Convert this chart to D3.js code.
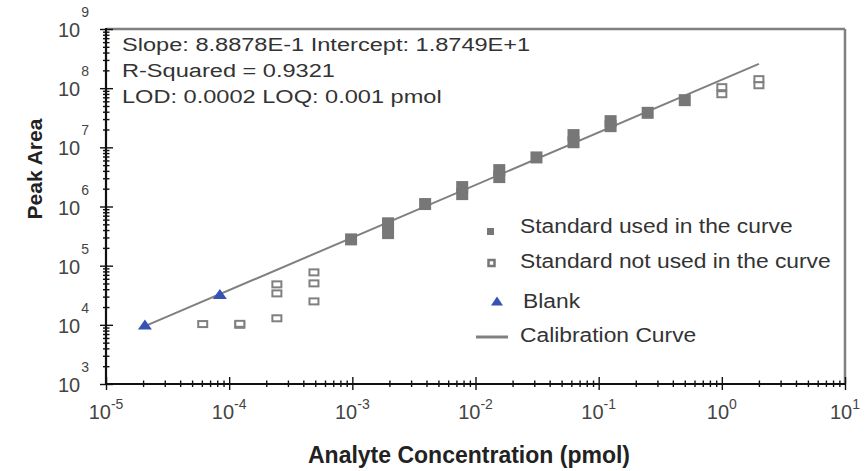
<!DOCTYPE html>
<html>
<head>
<meta charset="utf-8">
<script src="https://cdn.jsdelivr.net/npm/d3@7"></script>
<style>
  body { margin: 0; background: #fff; }
  text { font-family: "Liberation Sans", Arial, sans-serif; }
</style>
</head>
<body>
<div id="chart"></div>
<script>
// data
const usedConc = [0.000977, 0.00195, 0.00195, 0.0039, 0.0078, 0.0078, 0.0156, 0.0156,
                  0.03125, 0.0625, 0.0625, 0.125, 0.125, 0.25, 0.5];
const usedArea = [2.78e5, 5.2e5, 3.55e5, 1.1e6, 2.13e6, 1.62e6, 4.12e6, 3.14e6,
                  6.75e6, 1.61e7, 1.22e7, 2.77e7, 2.28e7, 3.83e7, 6.27e7];
const notUsedConc = [6.1e-5, 1.22e-4, 1.22e-4, 2.44e-4, 2.44e-4, 2.44e-4,
                     4.88e-4, 4.88e-4, 4.88e-4, 1, 1, 2, 2];
const notUsedArea = [1.03e4, 1.0e4, 1.04e4, 1.29e4, 3.4e4, 4.83e4,
                     2.49e4, 5.02e4, 7.7e4, 1.04e8, 7.9e7, 1.42e8, 1.12e8];
const blankConc = [2.07e-5, 8.4e-5];
const blankArea = [9.7e3, 3.2e4];
const curveConc = [2.07e-5, 2];
const curveArea = [9.5e3, 2.57e8];

const xExp = [-5, -4, -3, -2, -1, 0, 1];
const yExp = [3, 4, 5, 6, 7, 8, 9];

const infoLines = ["Slope: 8.8878E-1 Intercept: 1.8749E+1",
                   "R-Squared = 0.9321",
                   "LOD: 0.0002 LOQ: 0.001 pmol"];
const legendLabels = ["Standard used in the curve", "Standard not used in the curve",
                      "Blank", "Calibration Curve"];

const W = 867, H = 471;
const margin = { top: 29, right: 22, bottom: 87, left: 106 },
      width  = W - margin.left - margin.right,
      height = H - margin.top  - margin.bottom;

const svgRoot = d3.select("#chart").append("svg")
  .attr("width", W).attr("height", H);
const svg = svgRoot.append("g")
  .attr("transform", `translate(${margin.left},${margin.top})`);

const x = d3.scaleLog().domain([1e-5, 10]).range([0, width]);
const y = d3.scaleLog().domain([1e3, 1e9]).range([height, 0]);

const grey = "#808080", markGrey = "#777", blue = "#3552b4", ink = "#333";

// minor tick values 2..9 per decade
const minors = ex => ex.slice(0, -1).flatMap(e => d3.range(2, 10).map(m => m * Math.pow(10, e)));
const majors = ex => ex.map(e => Math.pow(10, e));

// frame (top / right in grey)
svg.append("line").attr("x1", 0).attr("x2", width).attr("y1", 0).attr("y2", 0)
  .attr("stroke", grey).attr("stroke-width", 2.5);
svg.append("line").attr("x1", width).attr("x2", width).attr("y1", 0).attr("y2", height)
  .attr("stroke", grey).attr("stroke-width", 2.5);

// axes: ticks on both sides of the axis line
function drawAxis(axisFn, scale, vals, size, tr) {
  const g = svg.append("g").attr("transform", tr)
    .call(axisFn(scale).tickValues(vals).tickSize(size).tickFormat(""));
  g.select(".domain").remove();
  g.selectAll(".tick line").attr("stroke", "#111").attr("stroke-width", 1.4);
}
drawAxis(d3.axisLeft, y, majors(yExp), 6, "translate(0,0)");
drawAxis(d3.axisRight, y, majors(yExp), 7, "translate(0,0)");
drawAxis(d3.axisLeft, y, minors(yExp), 3, "translate(0,0)");
drawAxis(d3.axisRight, y, minors(yExp), 3.5, "translate(0,0)");
drawAxis(d3.axisBottom, x, majors(xExp), 6, `translate(0,${height})`);
drawAxis(d3.axisTop, x, majors(xExp), 7, `translate(0,${height})`);
drawAxis(d3.axisBottom, x, minors(xExp), 3, `translate(0,${height})`);
drawAxis(d3.axisTop, x, minors(xExp), 3.5, `translate(0,${height})`);

svg.append("line").attr("x1", 0).attr("x2", 0).attr("y1", -1).attr("y2", height + 1)
  .attr("stroke", "#111").attr("stroke-width", 2.2);
svg.append("line").attr("x1", -1).attr("x2", width).attr("y1", height).attr("y2", height)
  .attr("stroke", "#111").attr("stroke-width", 2.2);

// tick labels 10^n
xExp.forEach(e => {
  const t = svg.append("text")
    .attr("x", x(Math.pow(10, e))).attr("y", height + 35)
    .attr("text-anchor", "middle").attr("fill", "#444").style("font-size", "20px");
  t.append("tspan").text("10");
  t.append("tspan").attr("dy", -10).style("font-size", "14px").text(e);
});
yExp.forEach(e => {
  const t = svg.append("text")
    .attr("x", -17).attr("y", y(Math.pow(10, e)) + 8)
    .attr("text-anchor", "end").attr("fill", "#444").style("font-size", "20px");
  t.append("tspan").text("10");
  t.append("tspan").attr("dy", -20).attr("dx", 1).style("font-size", "14px").text(e);
});

// axis titles
svgRoot.append("text")
  .attr("x", 469).attr("y", 463)
  .attr("text-anchor", "middle").attr("fill", "#222")
  .style("font-size", "23px").style("font-weight", "bold")
  .text("Analyte Concentration (pmol)");
svgRoot.append("text")
  .attr("transform", "translate(42,169) rotate(-90)")
  .attr("text-anchor", "middle").attr("fill", "#222")
  .style("font-size", "21px").style("font-weight", "bold")
  .text("Peak Area");

// calibration curve
const line = d3.line().x(d => x(d[0])).y(d => y(d[1]));
svg.append("path")
  .datum(curveConc.map((c, i) => [c, curveArea[i]]))
  .attr("fill", "none").attr("stroke", grey).attr("stroke-width", 2)
  .attr("d", line);

// standards used
svg.selectAll(".used")
  .data(usedConc.map((c, i) => [c, usedArea[i]]))
  .enter().append("rect")
    .attr("class", "used")
    .attr("x", d => x(d[0]) - 6).attr("y", d => y(d[1]) - 6)
    .attr("width", 12).attr("height", 12)
    .attr("fill", markGrey);

// standards not used
svg.selectAll(".notused")
  .data(notUsedConc.map((c, i) => [c, notUsedArea[i]]))
  .enter().append("rect")
    .attr("class", "notused")
    .attr("x", d => x(d[0]) - 4.5).attr("y", d => y(d[1]) - 3)
    .attr("width", 9).attr("height", 6)
    .attr("fill", "#fff").attr("stroke", grey).attr("stroke-width", 2);

// blanks
const tri = (w, h) => `M0,${-h * 0.6}L${w / 2},${h * 0.4}L${-w / 2},${h * 0.4}Z`;
svg.selectAll(".blank")
  .data(blankConc.map((c, i) => [c, blankArea[i]]))
  .enter().append("path")
    .attr("class", "blank")
    .attr("transform", d => `translate(${x(d[0])},${y(d[1])})`)
    .attr("d", tri(14, 10))
    .attr("fill", blue);

// stretched text helper (the original text is wide)
function wideText(parent, tx, ty, str, size, sx) {
  return parent.append("text")
    .attr("transform", `translate(${tx},${ty}) scale(${sx},1)`)
    .attr("fill", ink).style("font-size", size + "px")
    .text(str);
}

// fit info
infoLines.forEach((s, i) => wideText(svgRoot, 122, 50.5 + i * 26, s, 18, 1.31));

// legend
const lg = svgRoot.append("g");
lg.append("rect").attr("x", 487).attr("y", 228).attr("width", 7).attr("height", 7).attr("fill", markGrey);
lg.append("rect").attr("x", 488.5).attr("y", 260).attr("width", 6).attr("height", 6)
  .attr("fill", "#fff").attr("stroke", markGrey).attr("stroke-width", 2.5);
lg.append("path").attr("transform", "translate(497,302)").attr("d", tri(12, 9)).attr("fill", blue);
lg.append("line").attr("x1", 476).attr("x2", 508).attr("y1", 337).attr("y2", 337)
  .attr("stroke", grey).attr("stroke-width", 3);
const legendPos = [[520, 233], [520, 268], [523, 308], [520, 342]];
legendLabels.forEach((s, i) => wideText(lg, legendPos[i][0], legendPos[i][1], s, 19.5, 1.17));
</script>
</body>
</html>
